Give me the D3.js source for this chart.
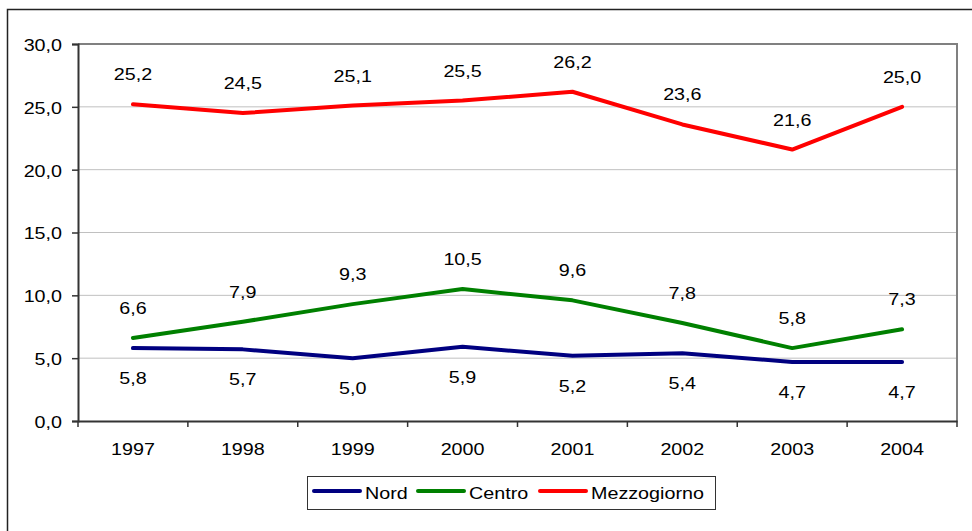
<!DOCTYPE html>
<html>
<head>
<meta charset="utf-8">
<script src="https://cdn.jsdelivr.net/npm/d3@7"></script>
<style>
  body { margin: 0; background: #fff; }
  text { font-family: "Liberation Sans", Arial, sans-serif; font-size: 17px; fill: #000; }
</style>
</head>
<body>
<svg id="chart" width="972" height="531"></svg>
<script>
// data
const years = ['1997', '1998', '1999', '2000', '2001', '2002', '2003', '2004'];
const nord = [5.8, 5.7, 5.0, 5.9, 5.2, 5.4, 4.7, 4.7];
const centro = [6.6, 7.9, 9.3, 10.5, 9.6, 7.8, 5.8, 7.3];
const mezzogiorno = [25.2, 24.5, 25.1, 25.5, 26.2, 23.6, 21.6, 25.0];
const yTicks = [0, 5, 10, 15, 20, 25, 30];

const series = [
  { name: 'Nord', values: nord, color: '#000080', labelBelow: true },
  { name: 'Centro', values: centro, color: '#008000', labelBelow: false },
  { name: 'Mezzogiorno', values: mezzogiorno, color: '#ff0000', labelBelow: false }
];

const fmt = (v) => v.toFixed(1).replace('.', ',');
// the original text is a bit stretched horizontally
const SX = 1.16;

const svg = d3.select('#chart');
const plot = { left: 78, top: 44, right: 957, bottom: 421 };

// outer chart frame (cut off at the right and bottom)
svg.append('rect')
  .attr('x', 7.5).attr('y', 9.5)
  .attr('width', 1000).attr('height', 600)
  .attr('fill', 'none').attr('stroke', '#222').attr('stroke-width', 1.5);

const x = d3.scaleBand().domain(years).range([plot.left, plot.right]);
const y = d3.scaleLinear().domain([0, 30]).range([plot.bottom, plot.top]);

// gridlines
svg.append('g')
  .selectAll('line')
  .data(yTicks.filter((t) => t > 0 && t < 30))
  .enter()
  .append('line')
  .attr('x1', plot.left).attr('x2', plot.right)
  .attr('y1', (d) => y(d)).attr('y2', (d) => y(d))
  .attr('stroke', '#c0c0c0').attr('stroke-width', 1);

// plot area border top/right
svg.append('path')
  .attr('d', `M${plot.left},${y(30)}H${plot.right}V${plot.bottom}`)
  .attr('fill', 'none').attr('stroke', '#808080').attr('stroke-width', 2);

// y axis
const yAxis = svg.append('g')
  .attr('transform', `translate(${plot.left},0)`)
  .call(d3.axisLeft(y).tickValues(yTicks).tickFormat(fmt).tickSize(6).tickPadding(10));
yAxis.select('.domain').attr('stroke', '#333').attr('stroke-width', 2);
yAxis.selectAll('.tick line').attr('stroke', '#333').attr('stroke-width', 1.5);
yAxis.selectAll('.tick text')
  .style('font-size', '17px').attr('font-family', null).attr('fill', '#000')
  .attr('x', -16 / SX).attr('dy', '0.38em')
  .attr('transform', `scale(${SX},1)`);

// x axis: ticks at category boundaries
const xAxis = svg.append('g')
  .attr('transform', `translate(0,${plot.bottom})`)
  .call(d3.axisBottom(x).tickSize(0).tickPadding(22));
xAxis.select('.domain').attr('stroke', '#333').attr('stroke-width', 2);
xAxis.selectAll('.tick text')
  .style('font-size', '17px').attr('font-family', null).attr('fill', '#000')
  .attr('transform', `scale(${SX},1)`);
xAxis.selectAll('line.bound')
  .data(years.map((d) => x(d)).concat([plot.right]))
  .enter()
  .append('line')
  .attr('class', 'bound')
  .attr('x1', (d) => d).attr('x2', (d) => d)
  .attr('y1', 0).attr('y2', 6)
  .attr('stroke', '#333').attr('stroke-width', 1.5);

const cx = (i) => x(years[i]) + x.bandwidth() / 2;
const line = d3.line().x((d, i) => cx(i)).y((d) => y(d));

series.forEach((s) => {
  svg.append('path')
    .datum(s.values)
    .attr('d', line)
    .attr('fill', 'none')
    .attr('stroke', s.color)
    .attr('stroke-width', 4)
    .attr('stroke-linejoin', 'round')
    .attr('stroke-linecap', 'round');

  svg.append('g')
    .selectAll('text')
    .data(s.values)
    .enter()
    .append('text')
    .attr('transform', (d, i) =>
      `translate(${cx(i)},${s.labelBelow ? y(d) + 36 : y(d) - 24}) scale(${SX},1)`)
    .attr('text-anchor', 'middle')
    .text(fmt);
});

// legend
const legend = svg.append('g');
legend.append('rect')
  .attr('x', 307.5).attr('y', 476.5)
  .attr('width', 408).attr('height', 33)
  .attr('fill', '#fff').attr('stroke', '#333').attr('stroke-width', 1);
const legendX = [313, 417, 539];
series.forEach((s, i) => {
  legend.append('line')
    .attr('x1', legendX[i] + 1).attr('x2', legendX[i] + 47)
    .attr('y1', 491).attr('y2', 491)
    .attr('stroke', s.color).attr('stroke-width', 4)
    .attr('stroke-linecap', 'round');
  legend.append('text')
    .attr('transform', `translate(${legendX[i] + 52},499) scale(${SX},1)`)
    .text(s.name);
});
</script>
</body>
</html>
